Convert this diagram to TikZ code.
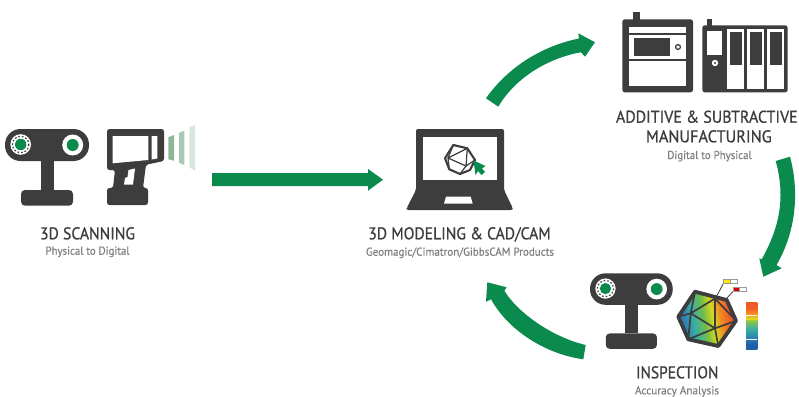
\documentclass[tikz,border=0pt]{standalone}
\usepackage{fontspec}
\usepackage{graphicx}
\setmainfont{PT Sans}
\newfontfamily\headfont[FakeBold=0.9]{PT Sans}
\newfontfamily\subfont[FakeBold=0.5]{PT Sans}
\definecolor{dk}{HTML}{3D3D3D}
\definecolor{gn}{HTML}{0B8A4D}
\definecolor{sub}{HTML}{808080}
\definecolor{wave1}{HTML}{8DB797}
\definecolor{wave2}{HTML}{A9C9B1}
\definecolor{wave3}{HTML}{D9E6DC}
\definecolor{c1}{HTML}{2F7FB5}
\definecolor{c2}{HTML}{39B0A5}
\definecolor{c3}{HTML}{6FBB4A}
\definecolor{c4}{HTML}{D5D81F}
\definecolor{c5}{HTML}{F08A22}
\definecolor{c6}{HTML}{EF5A28}
\definecolor{b1}{HTML}{1F5FA8}
\definecolor{b2}{HTML}{2A85B3}
\definecolor{b3}{HTML}{3FB0A0}
\definecolor{b4}{HTML}{8DC63F}
\definecolor{b5}{HTML}{E6DC1E}
\definecolor{b7}{HTML}{F7941E}
\definecolor{b6}{HTML}{F15A29}
\pgfdeclarehorizontalshading{meshcol}{100bp}{color(0bp)=(c1);color(30bp)=(c1);color(38bp)=(c2);color(47bp)=(c3);color(55bp)=(c4);color(62bp)=(c5);color(70bp)=(c6);color(100bp)=(c6)}
\pgfdeclareverticalshading{barcol}{100bp}{color(0bp)=(b1);color(30bp)=(b1);color(38bp)=(b2);color(47bp)=(b3);color(56bp)=(b4);color(57.5bp)=(b5);color(63bp)=(b7);color(69bp)=(b6);color(100bp)=(b6)}
\tikzset{
  head/.style={anchor=base,text=dk,font=\headfont\fontsize{17}{18}\selectfont,inner sep=0pt},
  subhead/.style={anchor=base,text=sub,font=\subfont\fontsize{11.5}{13}\selectfont,inner sep=0pt},
  flow/.style={fill=gn,draw=none},
  dkfill/.style={fill=dk,draw=none},
  wh/.style={fill=white,draw=none},
  mesh/.style={draw=dk,line width=1.7pt,line join=round},
  pics/camera/.style={code={
    \fill[dk,rounded corners=15.5pt] (0,0) rectangle (84,32);
    \fill[dk] (35.7,30) rectangle (49,61);
    \fill[dk,rounded corners=4pt] (16,61) -- (16,76.7) -- (68,76.7) -- (68,61) -- cycle;
    \fill[white] (15.7,15.5) circle (10.3);
    \draw[dk,line width=1.2pt,dash pattern=on 1.6pt off 2pt] (15.7,15.5) circle (8.2);
    \fill[gn] (15.7,15.5) circle (5.7);
    \fill[white] (67.7,16) circle (10.5);
    \fill[gn] (67.7,16) circle (6);
  }}
}
\newcommand{\fitw}[2]{\resizebox{#1pt}{\height}{#2}}
\begin{document}
\begin{tikzpicture}[x=1pt,y=-1pt]
\useasboundingbox (0,0) rectangle (799,396);
\fill[white] (0,0) rectangle (799,396);
% --- flow arrows
\fill[flow] (212,173) -- (368,173) -- (368,169) -- (383,179.7) -- (368,190.7) -- (368,186) -- (212,186) -- cycle;
\fill[flow] (486,98.3) .. controls (508,67) and (542,46) .. (579,38.5) -- (578.3,33.3) -- (595,42.3) -- (585,56.7) -- (581,52.3)
  .. controls (548,58) and (515,78) .. (498.3,106.7) -- cycle;
\fill[flow] (775.7,161) .. controls (785,195) and (781,225) .. (761.7,259.3) -- (759.3,258.3) -- (763.3,276.7) -- (781.7,268.3) -- (776.5,265)
  .. controls (797,230) and (799,190) .. (790,156.7) -- cycle;
\fill[flow] (585.7,345) .. controls (552,337) and (518,313) .. (504.3,290.7) -- (506.7,287.3) -- (487.3,282.3) -- (486,301.7) -- (491,299.3)
  .. controls (508,330) and (545,354) .. (583.3,359.3) -- cycle;
% --- 3D scanning
\pic at (5,129) {camera};
\fill[dkfill,rounded corners=2.5pt] (107,129) -- (164,129) -- (164,161) -- (146,164.7) -- (143,188) -- (148,188) -- (148,205) -- (107,205) -- (107,188) -- (113,188) -- (115,170) -- (107,170) -- cycle;
\fill[wh] (112.7,136) -- (148.3,136) -- (148.3,160) -- (112.7,163.3) -- cycle;
\fill[wh] (151.7,136) -- (157.3,136) -- (157.3,158.5) -- (151.7,159.5) -- cycle;
\fill[wh] (128.5,170) -- (135,168.5) -- (133,184.5) -- (124,184.5) -- (125,178) -- (127.5,177) -- cycle;
\fill[wave1] (168.3,137.3) -- (174,135) -- (174,160.7) -- (168.3,159.3) -- cycle;
\fill[wave2] (179,132.7) -- (184.3,130.7) -- (184.3,165) -- (179,162.7) -- cycle;
\fill[wave3] (189.3,127.3) -- (195,125) -- (195,170.7) -- (189.3,167.3) -- cycle;
% --- laptop
\fill[dkfill,rounded corners=2pt] (416,129) -- (504,129) -- (504,190) -- (512.7,208) -- (512.7,210) -- (406.7,210) -- (406.7,208) -- (416,190) -- cycle;
\fill[wh] (423.3,136.7) rectangle (496.7,180.3);
\fill[wh] (446,196.7) -- (470.7,196.7) -- (472.7,203.7) -- (444,203.7) -- cycle;
\draw[dk,line width=2.1pt,line join=round] (453.3,145) -- (467.3,148.3) -- (475,160) -- (470,170) -- (460,174) -- (449.3,169.3) -- (445,158.3) -- cycle;
\draw[dk,line width=1.2pt] (453.3,145) -- (448,158) -- (466,166) -- (467.3,148.3) -- (453.3,145) (448,158) -- (467.3,148.3) (466,166) -- (460,174) (466,166) -- (475,160) (448,158) -- (449.3,169.3);
\fill[gn] (473.5,160.5) -- (485.5,166) -- (482,168.5) -- (485,172) -- (481.5,175) -- (478,171) -- (475.5,175) -- cycle;
% --- machines
\fill[dkfill] (632.7,12) rectangle (640,22);
\fill[dkfill,rounded corners=2.5pt] (622.3,19.3) rectangle (693,92.3);
\fill[wh] (629.3,26.7) rectangle (686,86);
\fill[dkfill] (629.3,32.7) rectangle (686,34.7);
\fill[dkfill] (629.3,59.3) rectangle (686,61.3);
\fill[dkfill] (634,38) rectangle (670,56);
\draw[dk,line width=1.3pt] (678,47) circle (2.4);
\fill[dkfill] (707,19.3) rectangle (712,28);
\fill[dkfill,rounded corners=2.5pt] (702.3,25.3) rectangle (787.7,92.3);
\fill[wh] (707.3,30.7) rectangle (722,55);
\fill[white] (715,63) circle (3.2);
\fill[dk] (715,63) circle (1.1);
\fill[wh] (727.3,28.7) rectangle (744,89);
\fill[wh] (747.3,28.7) rectangle (764,89);
\fill[wh] (767.3,28.7) rectangle (784,89);
\fill[dkfill] (730,32) rectangle (742,65);
\fill[dkfill] (750,32) rectangle (762,65);
\fill[dkfill] (770,32) rectangle (782,65);
% --- inspection
\pic[scale=.985] at (590,273.3) {camera};
\path[shading=meshcol,shading angle=10] (695,291.7) -- (726.7,300) -- (736,320.7) -- (718.3,346) -- (688.3,339.3) -- (678.3,316.7) -- cycle;
\draw[dk,line width=3.8pt,line join=round] (695,291.7) -- (726.7,300) -- (736,320.7) -- (718.3,346) -- (688.3,339.3) -- (678.3,316.7) -- cycle;
\draw[mesh] (695,291.7) -- (690.7,313.3) -- (715,298.5) -- (715,328.3) -- (690.7,313.3) -- (688.3,339.3) -- (715,328.3) -- (718.3,346) (715,328.3) -- (736,320.7) -- (715,298.5) (690.7,313.3) -- (678.3,316.7);
\draw[dk,line width=.8pt] (716.7,296) -- (723.3,283.7) (726.7,298.3) -- (732.7,291.7);
\fill[fill=sub!80] (723.3,279) rectangle (737.7,283.7);
\fill[fill=sub!80] (732.7,287) rectangle (747,291.7);
\fill[fill=yellow!90!orange] (724.3,280) rectangle (730,282.7);
\fill[wh] (731,280) rectangle (736.7,282.7);
\fill[fill=red!85!black] (733.7,288) rectangle (739.3,290.7);
\fill[wh] (740.3,288) rectangle (746,290.7);
\path[shading=barcol] (746,302.7) rectangle (757.3,349);
\fill[wh] (746,315.2) rectangle (757.3,316.2);
\fill[wh] (746,338.5) rectangle (757.3,339.5);
% --- labels
\node[head] (scan) at (87.5,239.3) {\fitw{95}{3D SCANNING}};
\node[subhead] (scansub) at (87.5,254.7) {\fitw{84}{Physical to Digital}};
\node[head] (model) at (459.5,239.3) {\fitw{182.4}{3D MODELING \& CAD/CAM}};
\node[subhead] (modelsub) at (460,255.7) {\fitw{188}{Geomagic/Cimatron/GibbsCAM Products}};
\node[head] (addit) at (706.8,122.7) {\fitw{181.7}{ADDITIVE \& SUBTRACTIVE}};
\node[head] (manuf) at (708.8,142.3) {\fitw{125.7}{MANUFACTURING}};
\node[subhead] (manufsub) at (709.5,159) {\fitw{84.4}{Digital to Physical}};
\node[head] (insp) at (677.2,378.3) {\fitw{82.3}{INSPECTION}};
\node[subhead] (inspsub) at (677,394.3) {\fitw{84}{Accuracy Analysis}};
\end{tikzpicture}
\end{document}
